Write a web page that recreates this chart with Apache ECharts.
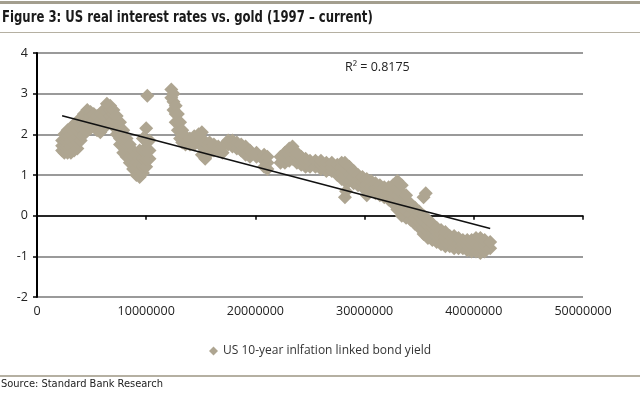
<!DOCTYPE html>
<html>
<head>
<meta charset="utf-8">
<script src="https://cdn.jsdelivr.net/npm/echarts@6/dist/echarts.min.js"></script>
<style>
  html, body { margin: 0; padding: 0; background: #fff; }
  #chart { width: 640px; height: 396px; }
</style>
</head>
<body>
<div id="chart"></div>
<script>
// axis ticks
var xTicks = [0, 10000000, 20000000, 30000000, 40000000, 50000000];
var yTicks = [-2, -1, 0, 1, 2, 3, 4];

var seriesName = 'US 10-year inlfation linked bond yield';
var r2Label = 'R\u00b2 = 0.8175';

// scatter points [x, yield]
var points = [
  // first hump, 1997-2000
  [2300000, 1.6], [2300000, 1.72], [2300000, 1.85],
  [2500000, 1.55], [2500000, 1.7], [2500000, 1.85], [2500000, 2.0],
  [2800000, 1.55], [2800000, 1.7], [2800000, 1.85], [2800000, 1.98], [2800000, 2.1],
  [3100000, 1.55], [3100000, 1.7], [3100000, 1.85], [3100000, 2.0], [3100000, 2.15],
  [3400000, 1.6], [3400000, 1.75], [3400000, 1.9], [3400000, 2.05], [3400000, 2.25],
  [3700000, 1.65], [3700000, 1.8], [3700000, 1.95], [3700000, 2.1], [3700000, 2.3],
  [4000000, 1.85], [4000000, 2.0], [4000000, 2.15], [4000000, 2.28], [4000000, 2.4],
  [4300000, 2.0], [4300000, 2.15], [4300000, 2.3], [4300000, 2.5],
  [4600000, 2.1], [4600000, 2.25], [4600000, 2.4], [4600000, 2.6],
  [4900000, 2.15], [4900000, 2.3], [4900000, 2.45], [4900000, 2.55],
  [5200000, 2.2], [5200000, 2.35], [5200000, 2.5],
  [5500000, 2.1], [5500000, 2.25], [5500000, 2.45],
  [5800000, 2.05], [5800000, 2.2], [5800000, 2.35], [5800000, 2.5],
  [6100000, 2.15], [6100000, 2.3], [6100000, 2.45], [6100000, 2.6],
  [6400000, 2.25], [6400000, 2.4], [6400000, 2.55], [6400000, 2.75],
  [6700000, 2.3], [6700000, 2.45], [6700000, 2.6], [6700000, 2.7],
  [7000000, 2.2], [7000000, 2.35], [7000000, 2.5], [7000000, 2.6],
  [7300000, 2.0], [7300000, 2.15], [7300000, 2.3], [7300000, 2.45],
  [7600000, 1.75], [7600000, 1.9], [7600000, 2.05], [7600000, 2.3],
  [7900000, 1.55], [7900000, 1.7], [7900000, 1.85], [7900000, 2.1],
  [8200000, 1.45], [8200000, 1.6], [8200000, 1.75], [8200000, 1.9],
  [8500000, 1.3], [8500000, 1.45], [8500000, 1.6], [8500000, 1.75],
  [8800000, 1.15], [8800000, 1.3], [8800000, 1.45], [8800000, 1.6],
  [9100000, 1.0], [9100000, 1.15], [9100000, 1.3], [9100000, 1.5],
  [9400000, 0.95], [9400000, 1.1], [9400000, 1.25], [9400000, 1.4], [9400000, 1.6],
  [9700000, 1.05], [9700000, 1.2], [9700000, 1.4], [9700000, 1.6], [9700000, 1.9],
  [10000000, 1.2], [10000000, 1.4], [10000000, 1.6], [10000000, 1.85], [10000000, 2.15],
  [10300000, 1.4], [10300000, 1.6], [10300000, 1.85],
  [10100000, 2.95],
  // 2001-2004
  [12300000, 2.9], [12300000, 3.1],
  [12500000, 2.6], [12500000, 2.8], [12500000, 3.0],
  [12700000, 2.3], [12700000, 2.5], [12700000, 2.7],
  [12900000, 2.1], [12900000, 2.3], [12900000, 2.5],
  [13100000, 1.9], [13100000, 2.1], [13100000, 2.3],
  [13300000, 1.8], [13300000, 1.95], [13300000, 2.1],
  [13600000, 1.75], [13600000, 1.95],
  [14000000, 1.75], [14000000, 1.9],
  [14400000, 1.75], [14400000, 1.95],
  [14800000, 1.8], [14800000, 2.0],
  [15100000, 1.5], [15100000, 1.7], [15100000, 1.9], [15100000, 2.05],
  [15400000, 1.4], [15400000, 1.6], [15400000, 1.8],
  [15800000, 1.55], [15800000, 1.7], [15800000, 1.8],
  [16200000, 1.6], [16200000, 1.75],
  [16600000, 1.6], [16600000, 1.7],
  [17000000, 1.55], [17000000, 1.7],
  [17500000, 1.75], [17500000, 1.85],
  [17900000, 1.7], [17900000, 1.85],
  [18300000, 1.65], [18300000, 1.8],
  [18700000, 1.6], [18700000, 1.75],
  [19100000, 1.5], [19100000, 1.7],
  [19500000, 1.45], [19500000, 1.6],
  [20100000, 1.45], [20100000, 1.55],
  [20800000, 1.2], [20800000, 1.35], [20800000, 1.5],
  [21100000, 1.15], [21100000, 1.3], [21100000, 1.45],
  // 2005-2008
  [22300000, 1.3], [22300000, 1.45],
  [22700000, 1.3], [22700000, 1.45], [22700000, 1.55],
  [23100000, 1.35], [23100000, 1.5], [23100000, 1.65],
  [23400000, 1.4], [23400000, 1.55], [23400000, 1.7],
  [23800000, 1.3], [23800000, 1.45], [23800000, 1.55],
  [24200000, 1.25], [24200000, 1.35], [24200000, 1.45],
  [24600000, 1.2], [24600000, 1.3], [24600000, 1.4],
  [25000000, 1.2], [25000000, 1.35],
  [25500000, 1.2], [25500000, 1.35],
  [26000000, 1.15], [26000000, 1.25], [26000000, 1.35],
  [26500000, 1.1], [26500000, 1.2], [26500000, 1.3],
  [27000000, 1.1], [27000000, 1.2], [27000000, 1.3],
  [27500000, 1.0], [27500000, 1.12], [27500000, 1.25],
  [27900000, 0.9], [27900000, 1.05], [27900000, 1.2], [27900000, 1.3],
  [28200000, 0.45], [28300000, 0.6],
  [28200000, 0.85], [28200000, 1.0], [28200000, 1.15], [28200000, 1.3],
  [28600000, 0.85], [28600000, 1.0], [28600000, 1.2],
  [29000000, 0.8], [29000000, 0.95], [29000000, 1.1],
  [29400000, 0.75], [29400000, 0.88], [29400000, 1.0],
  [29800000, 0.7], [29800000, 0.82], [29800000, 0.95],
  [30200000, 0.5], [30200000, 0.65], [30200000, 0.78], [30200000, 0.9],
  [30600000, 0.6], [30600000, 0.72], [30600000, 0.85],
  [31000000, 0.55], [31000000, 0.68], [31000000, 0.8],
  [31400000, 0.5], [31400000, 0.62], [31400000, 0.75],
  [31800000, 0.45], [31800000, 0.58], [31800000, 0.7],
  [32200000, 0.4], [32200000, 0.55], [32200000, 0.7],
  [32600000, 0.3], [32600000, 0.45], [32600000, 0.6], [32600000, 0.75],
  [33000000, 0.15], [33000000, 0.3], [33000000, 0.5], [33000000, 0.7], [33000000, 0.85],
  [33400000, 0.0], [33400000, 0.15], [33400000, 0.35], [33400000, 0.55], [33400000, 0.75],
  [33800000, -0.05], [33800000, 0.1], [33800000, 0.3], [33800000, 0.5],
  [34200000, -0.1], [34200000, 0.05], [34200000, 0.2], [34200000, 0.3],
  // 2009 onwards
  [34600000, -0.2], [34600000, -0.05], [34600000, 0.1], [34600000, 0.2],
  [35000000, -0.3], [35000000, -0.15], [35000000, 0.0], [35000000, 0.1],
  [35400000, 0.45], [35600000, 0.55],
  [35400000, -0.45], [35400000, -0.3], [35400000, -0.15], [35400000, 0.0],
  [35800000, -0.55], [35800000, -0.4], [35800000, -0.25], [35800000, -0.1],
  [36200000, -0.6], [36200000, -0.45], [36200000, -0.3], [36200000, -0.2],
  [36600000, -0.65], [36600000, -0.5], [36600000, -0.4], [36600000, -0.3],
  [37000000, -0.7], [37000000, -0.55], [37000000, -0.45], [37000000, -0.35],
  [37400000, -0.75], [37400000, -0.6], [37400000, -0.5], [37400000, -0.4],
  [37800000, -0.75], [37800000, -0.62], [37800000, -0.5],
  [38200000, -0.8], [38200000, -0.65], [38200000, -0.5],
  [38600000, -0.8], [38600000, -0.68], [38600000, -0.55],
  [39000000, -0.8], [39000000, -0.7], [39000000, -0.6],
  [39400000, -0.85], [39400000, -0.72], [39400000, -0.6],
  [39800000, -0.88], [39800000, -0.72], [39800000, -0.6],
  [40200000, -0.88], [40200000, -0.7], [40200000, -0.55],
  [40600000, -0.92], [40600000, -0.72], [40600000, -0.55],
  [41000000, -0.88], [41000000, -0.72], [41000000, -0.6],
  [41500000, -0.8], [41500000, -0.65]
];

// linear trend line through the points
function trend(pts) {
  var n = pts.length, sx = 0, sy = 0, sxx = 0, sxy = 0
  var minX = Infinity, maxX = -Infinity
  pts.forEach(function (p) {
    sx += p[0]; sy += p[1]; sxx += p[0] * p[0]; sxy += p[0] * p[1]
    minX = Math.min(minX, p[0]); maxX = Math.max(maxX, p[0])
  })
  var b = (n * sxy - sx * sy) / (n * sxx - sx * sx)
  var a = (sy - b * sx) / n
  return [[minX, a + b * minX], [maxX, a + b * maxX]]
}

var gridGrey = '#9a9a9a'
var markerColor = '#aea591'
var font = "'Open Sans', sans-serif"

var chart = echarts.init(document.getElementById('chart'))
var option = {
  animation: false,
  backgroundColor: '#fff',
  grid: { left: 37, right: 57, top: 53, bottom: 99 },
  legend: {
    data: [{ name: seriesName, icon: 'diamond' }],
    left: 'center',
    top: 340,
    itemWidth: 9,
    itemHeight: 9,
    itemGap: 4,
    textStyle: { fontFamily: font, fontSize: 12, color: '#333' }
  },
  xAxis: [
    {
      // line at zero with ticks
      type: 'value',
      min: xTicks[0], max: xTicks[xTicks.length - 1], interval: 10000000,
      axisLine: { onZero: true, lineStyle: { color: '#000', width: 1.5 } },
      axisTick: { show: true, length: 4, lineStyle: { color: '#000', width: 1.5 } },
      axisLabel: { show: false },
      splitLine: { show: false }
    },
    {
      // labels at the bottom
      type: 'value',
      position: 'bottom',
      min: xTicks[0], max: xTicks[xTicks.length - 1], interval: 10000000,
      axisLine: { show: false, onZero: false },
      axisTick: { show: false },
      axisLabel: {
        margin: 8, fontFamily: font, fontSize: 12.5, color: '#222',
        formatter: function (v) { return String(v) }
      },
      splitLine: { show: false }
    }
  ],
  yAxis: {
    type: 'value',
    min: yTicks[0], max: yTicks[yTicks.length - 1], interval: 1,
    axisLine: { show: true, lineStyle: { color: '#000', width: 2 } },
    axisTick: { show: true, length: 4, lineStyle: { color: '#000', width: 1.5 } },
    axisLabel: { margin: 9, fontFamily: font, fontSize: 12.5, color: '#222' },
    splitLine: { lineStyle: { color: gridGrey, width: 2 } }
  },
  series: [
    {
      name: seriesName,
      type: 'scatter',
      symbol: 'diamond',
      symbolSize: 14,
      itemStyle: { color: markerColor, opacity: 1 },
      data: points,
      z: 2
    },
    {
      name: 'trend',
      type: 'line',
      showSymbol: false,
      symbol: 'none',
      data: trend(points),
      lineStyle: { color: '#111', width: 1.5 },
      z: 3
    }
  ],
  graphic: [
    { type: 'rect', shape: { x: 0, y: 1, width: 640, height: 3 }, style: { fill: '#a39e8e' } },
    { type: 'text', x: 2, y: 10, scaleX: 0.73,
      style: { text: 'Figure 3: US real interest rates vs. gold (1997 \u2013 current)',
        font: "bold 16px 'DejaVu Sans', sans-serif", fill: '#1a1a1a' } },
    { type: 'rect', shape: { x: 0, y: 32, width: 640, height: 1 }, style: { fill: '#b5b0a2' } },
    { type: 'text', left: 345, top: 61,
      style: { text: r2Label, font: "12.5px 'Open Sans', sans-serif", fill: '#222' } },
    { type: 'rect', shape: { x: 0, y: 375, width: 640, height: 2 }, style: { fill: '#b5b0a2' } },
    { type: 'text', left: 1, top: 379,
      style: { text: 'Source: Standard Bank Research', font: "11px 'DejaVu Sans Condensed', sans-serif", fill: '#222' } }
  ]
}
chart.setOption(option)
</script>
</body>
</html>
